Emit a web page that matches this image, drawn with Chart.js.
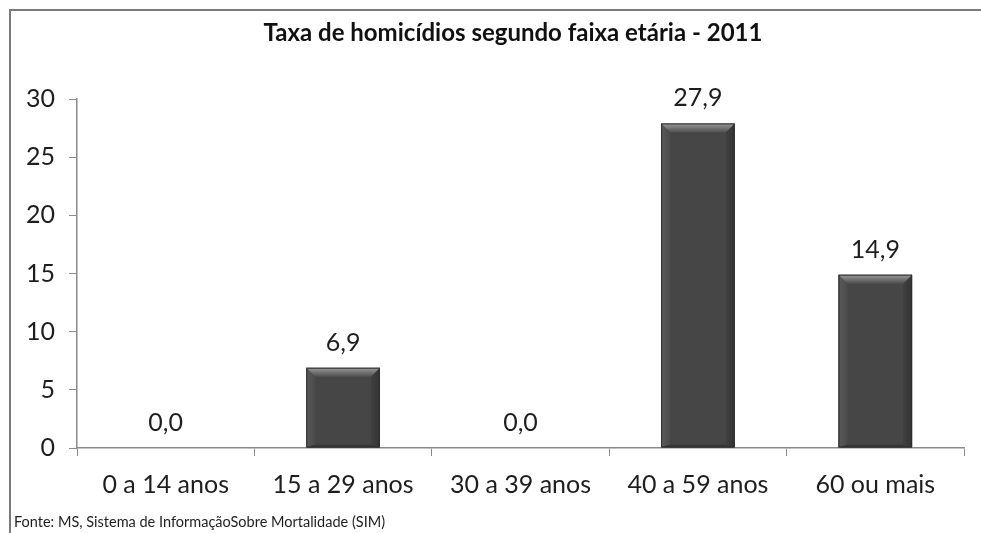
<!DOCTYPE html>
<html>
<head>
<meta charset="utf-8">
<script src="https://cdn.jsdelivr.net/npm/chart.js@4.4.1/dist/chart.umd.min.js"></script>
<style>
    body { margin: 0; background: #fff; }
    #wrap { position: relative; width: 981px; height: 533px; }
    #frame {
        position: absolute; left: 9px; top: 9px; right: 0; bottom: 0;
        border-top: 2px solid #7a7a7a; border-left: 2px solid #7a7a7a;
        pointer-events: none;
    }
    canvas { position: absolute; left: 0; top: 0; }
</style>
</head>
<body>
<div id="wrap">
    <canvas id="faixa_chart" width="981" height="533"></canvas>
    <div id="frame"></div>
</div>
<script>
// homicide rate by age group, 2011
const faixas = ["0 a 14 anos", "15 a 29 anos", "30 a 39 anos", "40 a 59 anos", "60 ou mais"];
const taxas = [0.0, 6.9, 0.0, 27.9, 14.9];
const y_ticks = [0, 5, 10, 15, 20, 25, 30];

const titulo = "Taxa de homicídios segundo faixa etária - 2011";
const fonte = "Fonte: MS, Sistema de InformaçãoSobre Mortalidade (SIM)";

const FONT = "Lato, 'Open Sans', sans-serif";
const AXIS_GRAY = "#8a8a8a";

// bevelled look on top of the plain bar fill
const bevel_plugin = {
    id: 'bevel',
    afterDatasetsDraw(chart) {
        const ctx = chart.ctx;
        chart.getDatasetMeta(0).data.forEach(bar => {
            const h = bar.base - bar.y;
            if (h < 2) return;
            const l = bar.x - bar.width / 2, r = bar.x + bar.width / 2;
            const t = bar.y, b = bar.base;
            const e = Math.min(9, h / 2);
            ctx.save();
            // left edge
            let g = ctx.createLinearGradient(l, 0, l + e, 0);
            g.addColorStop(0, '#5a5a5a');
            g.addColorStop(1, '#4b4b4b');
            ctx.fillStyle = g;
            ctx.beginPath();
            ctx.moveTo(l, t); ctx.lineTo(l + e, t + e); ctx.lineTo(l + e, b - 3); ctx.lineTo(l, b);
            ctx.closePath(); ctx.fill();
            // right edge
            g = ctx.createLinearGradient(r - e, 0, r, 0);
            g.addColorStop(0, '#404040');
            g.addColorStop(1, '#333');
            ctx.fillStyle = g;
            ctx.beginPath();
            ctx.moveTo(r, t); ctx.lineTo(r - e, t + e); ctx.lineTo(r - e, b - 3); ctx.lineTo(r, b);
            ctx.closePath(); ctx.fill();
            // top edge
            g = ctx.createLinearGradient(0, t, 0, t + e);
            g.addColorStop(0, '#9a9a9a');
            g.addColorStop(1, '#4e4e4e');
            ctx.fillStyle = g;
            ctx.beginPath();
            ctx.moveTo(l, t); ctx.lineTo(r, t); ctx.lineTo(r - e, t + e); ctx.lineTo(l + e, t + e);
            ctx.closePath(); ctx.fill();
            // bottom edge
            ctx.fillStyle = '#383838';
            ctx.beginPath();
            ctx.moveTo(l, b); ctx.lineTo(r, b); ctx.lineTo(r - e, b - 3); ctx.lineTo(l + e, b - 3);
            ctx.closePath(); ctx.fill();
            ctx.strokeStyle = '#2e2e2e';
            ctx.lineWidth = 1;
            ctx.strokeRect(l + 0.5, t + 0.5, r - l - 1, b - t - 1);
            ctx.restore();
        });
    }
};

// value above each bar, with comma decimals
const value_labels = {
    id: 'value_labels',
    afterDatasetsDraw(chart) {
        const ctx = chart.ctx;
        ctx.save();
        ctx.font = "25px " + FONT;
        ctx.fillStyle = "#1e1e1e";
        ctx.textAlign = "center";
        ctx.textBaseline = "middle";
        chart.getDatasetMeta(0).data.forEach((bar, i) => {
            ctx.fillText(taxas[i].toFixed(1).replace('.', ','), bar.x, bar.y - 25);
        });
        ctx.restore();
    }
};

// title over the plot area and source note at the bottom left
const texts_plugin = {
    id: 'texts',
    afterDraw(chart) {
        const ctx = chart.ctx;
        ctx.save();
        ctx.fillStyle = "#111";
        ctx.textBaseline = "middle";
        ctx.textAlign = "center";
        ctx.font = "bold 24px " + FONT;
        ctx.fillText(titulo, 513, 33);
        ctx.fillStyle = "#1e1e1e";
        ctx.textAlign = "left";
        ctx.font = "14.5px " + FONT;
        ctx.fillText(fonte, 14, 522);
        ctx.restore();
    }
};

const bar_config = {
    type: 'bar',
    data: {
        labels: faixas,
        datasets: [{
            data: taxas,
            backgroundColor: '#464646',
            categoryPercentage: 1.0,
            barPercentage: 0.415
        }]
    },
    options: {
        responsive: false,
        animation: false,
        layout: { padding: { top: 99, left: 0, right: 17, bottom: 25 } },
        plugins: {
            legend: { display: false },
            tooltip: { enabled: false },
            title: { display: false }
        },
        scales: {
            x: {
                grid: { drawOnChartArea: false, color: AXIS_GRAY, tickLength: 8 },
                border: { color: AXIS_GRAY, width: 1.5 },
                ticks: { color: '#1e1e1e', font: { family: FONT, size: 25 }, padding: 14, maxRotation: 0 },
                afterFit(scale) { scale.height = 60; }
            },
            y: {
                min: 0,
                max: 30,
                afterBuildTicks(scale) { scale.ticks = y_ticks.map(v => ({ value: v })); },
                grid: { drawOnChartArea: false, color: AXIS_GRAY, tickLength: 8 },
                border: { color: AXIS_GRAY, width: 1.5 },
                ticks: { color: '#1e1e1e', font: { family: FONT, size: 25 }, padding: 14 },
                afterFit(scale) { scale.width = 77; }
            }
        }
    },
    plugins: [bevel_plugin, value_labels, texts_plugin]
};

window.onload = function () {
    new Chart(document.getElementById("faixa_chart").getContext('2d'), bar_config);
};
</script>
</body>
</html>
